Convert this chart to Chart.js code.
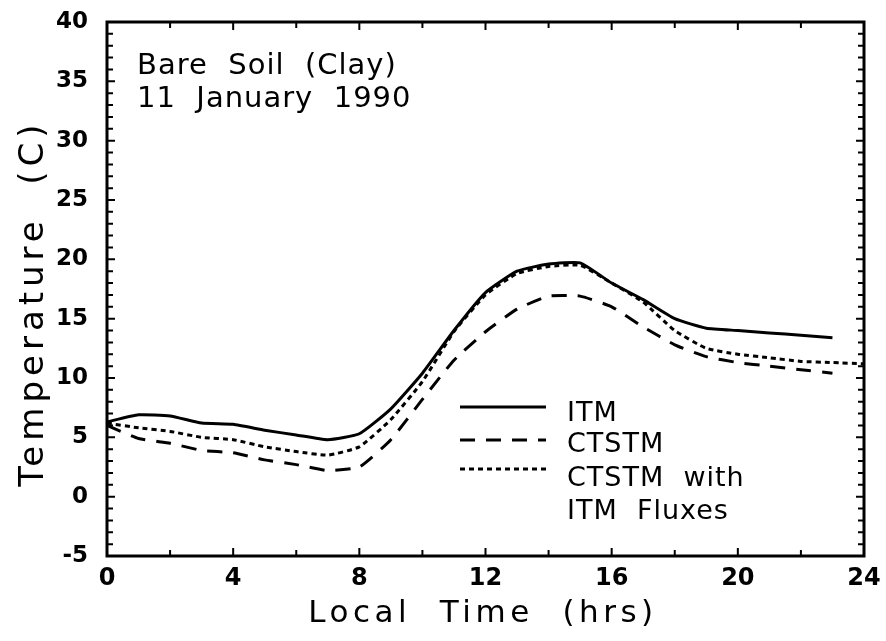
<!DOCTYPE html>
<html>
<head>
<meta charset="utf-8">
<script src="https://cdn.jsdelivr.net/npm/chart.js@4.4.0/dist/chart.umd.min.js"></script>
<style>
  html, body { margin: 0; padding: 0; background: #fff; }
  #wrap { width: 886px; height: 641px; }
</style>
</head>
<body>
<div id="wrap"><canvas id="tempChart" width="886" height="641"></canvas></div>
<script>
// ===== Data =====
const hours = [0, 1, 2, 3, 4, 5, 6, 7, 8, 9, 10, 11, 12, 13, 14, 15, 16, 17, 18, 19, 20, 21, 22, 23, 24];
const itm = [6.3, 6.9, 6.8, 6.2, 6.1, 5.6, 5.2, 4.8, 5.3, 7.4, 10.4, 14.0, 17.2, 19.0, 19.6, 19.7, 18.0, 16.6, 15.0, 14.2, 14.0, 13.8, 13.6, 13.4, null];
const ctstm = [6.0, 4.9, 4.5, 3.9, 3.7, 3.1, 2.7, 2.2, 2.5, 4.8, 8.2, 11.5, 13.9, 15.8, 16.9, 16.9, 16.0, 14.3, 12.8, 11.8, 11.3, 11.0, 10.7, 10.4, null];
const ctstmFlux = [6.2, 5.8, 5.5, 5.0, 4.8, 4.2, 3.8, 3.5, 4.2, 6.5, 9.7, 13.9, 17.0, 18.8, 19.4, 19.5, 18.0, 16.4, 14.0, 12.5, 12.0, 11.7, 11.4, 11.3, 11.2];

const seriesNames = ["ITM", "CTSTM", "CTSTM  with"];
const xTicks = [0, 4, 8, 12, 16, 20, 24];
const yTicks = [-5, 0, 5, 10, 15, 20, 25, 30, 35, 40];

const INK = "#000";

function toPoints(values) {
    return hours.map((h, i) => ({ x: h, y: values[i] }));
}

// ===== Frame, inward ticks, titles, note and legend =====
const framePlugin = {
    id: "frame",
    afterDraw(chart) {
        const ctx = chart.ctx;
        const area = chart.chartArea;
        const xs = chart.scales.x;
        const ys = chart.scales.y;

        ctx.save();
        ctx.strokeStyle = INK;
        ctx.lineCap = "butt";

        // box
        ctx.lineWidth = 3;
        ctx.strokeRect(area.left, area.top, area.right - area.left, area.bottom - area.top);

        // x ticks every 2 h, bottom and top, pointing in
        ctx.lineWidth = 2;
        for (let h = 2; h < 24; h += 2) {
            const px = xs.getPixelForValue(h);
            const len = h % 4 === 0 ? 8 : 6;
            ctx.beginPath();
            ctx.moveTo(px, area.bottom);
            ctx.lineTo(px, area.bottom - len);
            ctx.moveTo(px, area.top);
            ctx.lineTo(px, area.top + len);
            ctx.stroke();
        }

        // y ticks every 1 C, left and right, pointing in
        for (let v = -4; v < 40; v++) {
            const py = ys.getPixelForValue(v);
            const len = v % 5 === 0 ? 8 : 6;
            ctx.beginPath();
            ctx.moveTo(area.left, py);
            ctx.lineTo(area.left + len, py);
            ctx.moveTo(area.right, py);
            ctx.lineTo(area.right - len, py);
            ctx.stroke();
        }

        ctx.fillStyle = INK;

        // axis titles
        ctx.font = "31px 'DejaVu Sans'";
        ctx.letterSpacing = "4.5px";
        ctx.textAlign = "center";
        ctx.textBaseline = "alphabetic";
        ctx.fillText("Local  Time  (hrs)", 483, 622);

        ctx.save();
        ctx.font = "34px 'DejaVu Sans'";
        ctx.letterSpacing = "5px";
        ctx.translate(43, 303);
        ctx.rotate(-Math.PI / 2);
        ctx.fillText("Temperature  (C)", 0, 0);
        ctx.restore();

        // note in the top left corner
        ctx.font = "29px 'DejaVu Sans'";
        ctx.letterSpacing = "1px";
        ctx.textAlign = "left";
        ctx.fillText("Bare  Soil  (Clay)", 137, 74);
        ctx.fillText("11  January  1990", 137, 107);

        // legend
        const rows = [
            { ds: 0, lineY: 407, textY: 421 },
            { ds: 1, lineY: 440, textY: 452 },
            { ds: 2, lineY: 469, textY: 486 }
        ];
        ctx.font = "27px 'DejaVu Sans'";
        rows.forEach(r => {
            const ds = chart.data.datasets[r.ds];
            ctx.save();
            ctx.lineWidth = ds.borderWidth;
            ctx.setLineDash(ds.borderDash || []);
            ctx.beginPath();
            ctx.moveTo(460, r.lineY);
            ctx.lineTo(546, r.lineY);
            ctx.stroke();
            ctx.restore();
            ctx.fillText(seriesNames[r.ds], 567, r.textY);
        });
        ctx.fillText("ITM  Fluxes", 567, 519);

        ctx.restore();
    }
};

// ===== Chart =====
const chartCanvas = document.getElementById("tempChart");

new Chart(chartCanvas.getContext("2d"), {
    type: "line",
    data: {
        datasets: [
            {
                label: "ITM",
                data: toPoints(itm),
                borderColor: INK,
                borderWidth: 3,
                borderDash: [],
                pointRadius: 0,
                tension: 0.15,
                fill: false
            },
            {
                label: "CTSTM",
                data: toPoints(ctstm),
                borderColor: INK,
                borderWidth: 3,
                borderDash: [15, 11],
                pointRadius: 0,
                tension: 0.15,
                fill: false
            },
            {
                label: "CTSTM with ITM Fluxes",
                data: toPoints(ctstmFlux),
                borderColor: INK,
                borderWidth: 3,
                borderDash: [5, 4],
                pointRadius: 0,
                tension: 0.15,
                fill: false
            }
        ]
    },
    plugins: [framePlugin],
    options: {
        responsive: false,
        animation: false,
        spanGaps: false,
        layout: { padding: { top: 22, right: 22, left: 0, bottom: 0 } },
        plugins: {
            legend: { display: false },
            tooltip: { enabled: false }
        },
        scales: {
            x: {
                type: "linear",
                min: 0,
                max: 24,
                afterBuildTicks: scale => { scale.ticks = xTicks.map(v => ({ value: v })); },
                afterFit: scale => {
                    scale.height = 641 - 556;
                    scale.paddingLeft = 0;
                    scale.paddingRight = 0;
                },
                grid: { display: false, drawTicks: false },
                border: { display: false },
                ticks: {
                    color: INK,
                    padding: 8,
                    maxRotation: 0,
                    font: { family: "'DejaVu Sans'", size: 24, weight: "bold" }
                }
            },
            y: {
                type: "linear",
                min: -5,
                max: 40,
                afterBuildTicks: scale => { scale.ticks = yTicks.map(v => ({ value: v })); },
                afterFit: scale => {
                    scale.width = 107;
                    scale.paddingTop = 0;
                    scale.paddingBottom = 0;
                },
                grid: { display: false, drawTicks: false },
                border: { display: false },
                ticks: {
                    color: INK,
                    padding: 19,
                    font: { family: "'DejaVu Sans'", size: 23, weight: "bold" }
                }
            }
        }
    }
});
</script>
</body>
</html>
